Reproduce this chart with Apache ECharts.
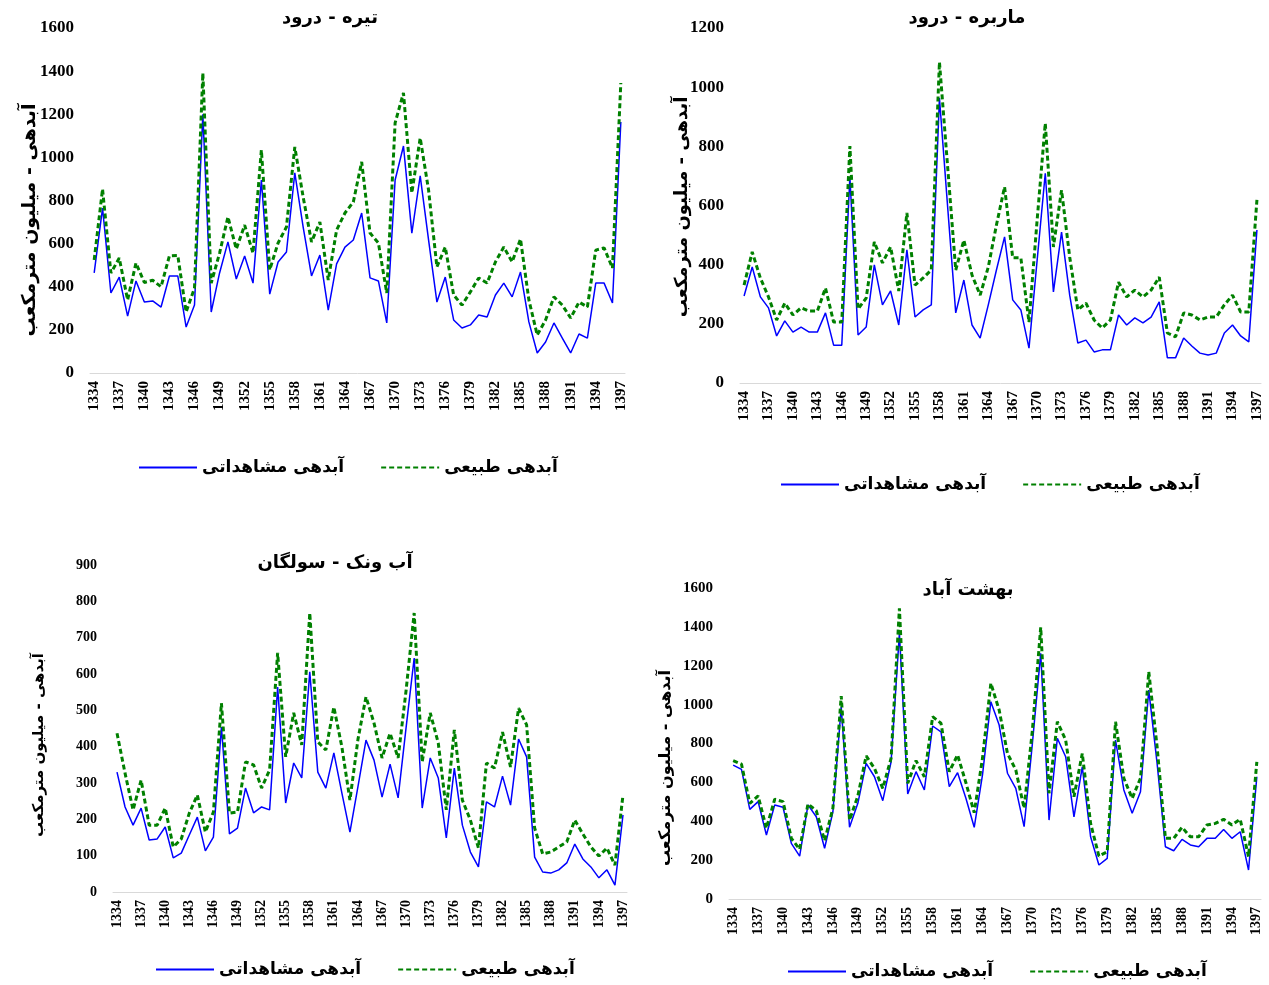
<!DOCTYPE html>
<html><head><meta charset="utf-8">
<script src="https://cdn.jsdelivr.net/npm/echarts@6/dist/echarts.min.js"></script>
<style>html,body{margin:0;padding:0;background:#fff}#c{width:1269px;height:985px}</style>
</head><body><div id="c"></div>
<script>
const years = [];
for (let y = 1334; y <= 1397; y++) years.push(String(y));

const titles = ['تیره - درود', 'ماربره - درود', 'آب ونک - سولگان', 'بهشت آباد'];
const nameObs = 'آبدهی مشاهداتی';
const nameNat = 'آبدهی طبیعی';
const yName = 'آبدهی - میلیون مترمکعب';

const obs1 = [464,765,371,445,264,427,329,334,306,450,450,213,315,1200,283,464,608,436,543,417,895,366,515,561,928,677,450,547,292,506,584,617,742,441,427,232,895,1053,649,914,617,329,445,246,209,223,269,260,362,417,353,468,237,93,144,232,162,93,181,162,417,417,325,1164];
const nat1 = [524,853,464,533,339,510,420,430,400,543,545,283,394,1391,417,556,724,575,686,556,1034,478,603,677,1048,816,608,700,431,663,742,793,979,649,603,371,1160,1299,835,1090,849,492,584,362,315,376,441,417,515,584,515,621,339,176,246,353,315,255,329,306,570,580,487,1345];

const obs2 = [294,392,291,254,159,210,172,189,172,172,237,128,128,696,162,189,399,264,311,196,450,223,247,264,963,598,237,348,196,152,264,382,494,281,247,118,415,709,308,510,297,135,145,105,112,112,230,196,220,203,223,274,85,85,152,125,101,95,101,169,196,159,139,517];
const nat2 = [331,443,355,291,213,270,230,254,243,243,321,206,206,801,250,287,477,406,460,311,575,331,355,382,1085,733,382,483,365,297,392,534,663,423,423,206,551,878,460,652,426,247,270,213,186,213,341,291,314,291,314,358,169,156,237,230,213,223,223,264,297,240,240,619];

const obs3 = [330,234,184,231,143,146,179,94,107,157,206,113,151,454,160,176,286,218,234,226,564,245,355,314,606,330,286,383,272,165,290,418,363,261,352,259,454,644,231,369,314,149,341,184,110,69,248,234,319,239,421,372,96,55,52,61,80,132,91,69,39,61,19,212];
const nat3 = [437,327,226,308,184,184,231,124,146,217,267,165,220,520,217,220,358,350,286,336,658,372,493,405,768,413,391,509,399,253,420,537,465,369,437,369,556,768,358,493,410,226,446,253,198,121,355,341,440,344,506,460,176,105,110,124,138,198,160,124,99,121,74,267];

const obs4 = [689,667,461,501,329,484,472,286,221,484,423,261,449,989,369,492,698,629,506,706,1367,540,655,561,890,860,578,650,518,369,640,1015,895,647,569,372,801,1264,406,827,732,423,680,320,175,209,818,561,441,552,1075,698,269,248,307,278,269,312,312,358,312,346,149,629];
const nat4 = [712,694,492,530,364,513,501,312,256,489,454,300,467,1044,406,530,736,672,569,724,1495,595,712,629,938,904,655,741,598,444,725,1110,972,749,664,467,869,1398,544,912,818,526,749,389,221,243,912,621,518,621,1169,784,312,312,369,320,320,381,389,410,381,410,218,706];

const yMax = [1600, 1200, 900, 1600];
const yStep = [200, 200, 100, 200];

const numFont = "'Liberation Serif', 'Times New Roman', serif";
const faFont = "'DejaVu Sans', 'Liberation Serif', sans-serif";

const grids = [
  {left: 90, top: 28, width: 535, height: 345},
  {left: 740, top: 28, width: 521, height: 355},
  {left: 113, top: 565, width: 514, height: 327},
  {left: 729, top: 588, width: 532, height: 311}
];
const yLabelSize = [17, 17, 14, 15];
const xLabelSize = [15, 15, 14, 14];
const titlePos = [[330, 18], [967, 18], [335, 563], [968, 590]];
const legendPos = [[138, 459], [780, 476], [155, 961], [787, 963]];
const yNamePos = [[30, 220, 19], [682, 207, 18], [39, 745, 15], [666, 768, 16]];

const obsData = [obs1, obs2, obs3, obs4];
const natData = [nat1, nat2, nat3, nat4];

const xAxis = [], yAxis = [], series = [], legend = [], graphic = [];
for (let i = 0; i < 4; i++) {
  xAxis.push({
    type: 'category', gridIndex: i, data: years, boundaryGap: true,
    axisLine: {lineStyle: {color: '#d9d9d9', width: 1}},
    axisTick: {show: false},
    axisLabel: {interval: 2, rotate: 90, color: '#000', fontFamily: numFont, fontWeight: 'bold', fontSize: xLabelSize[i], margin: 8}
  });
  yAxis.push({
    type: 'value', gridIndex: i, min: 0, max: yMax[i], interval: yStep[i],
    axisLine: {show: false}, axisTick: {show: false}, splitLine: {show: false},
    axisLabel: {color: '#000', fontFamily: numFont, fontWeight: 'bold', fontSize: yLabelSize[i], margin: 16,
      formatter: v => String(v)}
  });
  series.push({
    name: nameObs, type: 'line', xAxisIndex: i, yAxisIndex: i, data: obsData[i],
    symbol: 'none', lineStyle: {color: '#0000ff', width: 1.5}, itemStyle: {color: '#0000ff'}, animation: false
  });
  series.push({
    name: nameNat, type: 'line', xAxisIndex: i, yAxisIndex: i, data: natData[i],
    symbol: 'none', lineStyle: {color: '#008000', width: 3, type: [5, 3]}, itemStyle: {color: '#008000'}, animation: false
  });
  legend.push({
    left: legendPos[i][0], top: legendPos[i][1], orient: 'horizontal', padding: 0,
    data: [nameObs, nameNat], itemWidth: 58, itemHeight: 14, itemGap: 36,
    selectedMode: false,
    itemStyle: {opacity: 0},
    textStyle: {color: '#000', fontFamily: faFont, fontWeight: 'bold', fontSize: 17}
  });
  graphic.push({
    type: 'text', x: titlePos[i][0], y: titlePos[i][1],
    style: {text: titles[i], textAlign: 'center', textVerticalAlign: 'middle', fill: '#000',
      font: "bold 18px " + faFont}
  });
  graphic.push({
    type: 'text', x: yNamePos[i][0], y: yNamePos[i][1], rotation: Math.PI / 2,
    style: {text: yName, textAlign: 'center', textVerticalAlign: 'middle', fill: '#000',
      font: "bold " + yNamePos[i][2] + "px " + faFont}
  });
}

const chart = echarts.init(document.getElementById('c'), null, {renderer: 'canvas'});
chart.setOption({
  backgroundColor: '#fff',
  animation: false,
  grid: grids,
  xAxis, yAxis, series, legend, graphic
});
</script></body></html>
